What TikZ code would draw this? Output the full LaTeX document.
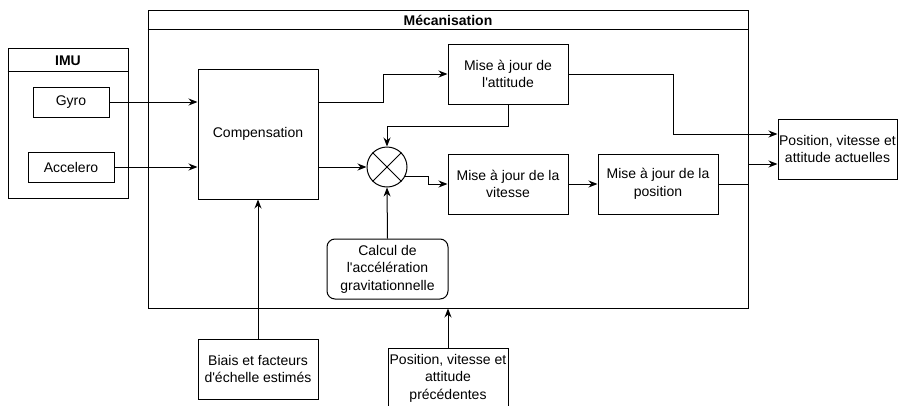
\documentclass[tikz,border=0pt]{standalone}
\usepackage{fontspec}
\setmainfont{Liberation Sans}
\usetikzlibrary{arrows.meta,calc}
\begin{document}
\begin{tikzpicture}[x=1pt,y=-1pt,
  line width=1pt,
  every node/.style={font=\fontsize{14}{17.5}\selectfont},
  box/.style={draw,align=center,inner sep=0pt,minimum width=120pt,minimum height=60pt},
  container/.style={draw,inner sep=0pt},
  ttl/.style={font=\fontsize{14}{17.5}\selectfont\bfseries},
  arr/.style={-{Stealth[length=9pt,width=7pt]}}]
\useasboundingbox (0,0) rectangle (898,405);
\begin{scope}
\clip (0,0) rectangle (898,405);
% containers
\node[container,minimum width=120pt,minimum height=150pt] (imu) at (68,123) {};
\draw ([yshift=-24pt]imu.north west) -- ([yshift=-24pt]imu.north east);
\node[ttl] (imut) at (68,60.5) {IMU};
\node[container,minimum width=600pt,minimum height=298pt] (mec) at (448,159) {};
\draw ([yshift=-20pt]mec.north west) -- ([yshift=-20pt]mec.north east);
\node[ttl] (mect) at (448,20) {Mécanisation};
% nodes
\node[box,minimum width=76pt,minimum height=30pt] (gyro) at (71,102) {Gyro};
\node[box,minimum width=86pt,minimum height=30pt] (acc) at (71,167) {Accelero};
\node[box,minimum height=130pt] (comp) at (258,134) {Compensation};
\node[box] (att) at (508,74) {Mise à jour de\\l{\textquotesingle}attitude};
\node[box] (vit) at (508,184) {Mise à jour de la\\vitesse};
\node[box] (pos) at (658,184) {Mise à jour de la\\position};
\node[draw,circle,minimum size=40pt,inner sep=0pt] (circ) at (387,167) {};
\draw (circ.45) -- (circ.225) (circ.135) -- (circ.315);
\node[box,rounded corners=8pt,minimum width=121pt] (calc) at (387.5,269) {Calcul de\\l{\textquotesingle}accélération\\gravitationnelle};
\node[box,minimum width=119pt] (out) at (837.5,149) {Position, vitesse et\\attitude actuelles};
\node[box] (biais) at (258,369) {Biais et facteurs\\d{\textquotesingle}échelle estimés};
\node[box] (prev) at (448,378) {Position, vitesse et\\attitude\\précédentes};
% connectors
\draw[arr] (gyro.east) -- (gyro.east -| comp.west);
\draw[arr] (acc.east) -- (acc.east -| comp.west);
\draw[arr] (comp.east |- gyro.east) -- ++(65,0) |- (att.west);
\draw[arr] (comp.east |- circ.west) -- (circ.west);
\draw[arr] (att.south) -- ++(0,22) -| (circ.north);
\coordinate (cv) at ($(circ.-27)+(23,0)$);
\draw[arr] (circ.-27) -- (cv) |- (vit.west);
\draw[arr] (vit.east) -- (pos.west);
\draw[arr] (pos.east) -- (pos.east -| mec.east) |- ($(out.west)+(0,15)$);
\draw[arr] (att.east) -- ++(105,0) |- ($(out.west)+(0,-15)$);
\draw[arr] (calc.north) -- (circ.south);
\draw[arr] (biais.north) -- (comp.south);
\draw[arr] (prev.north) -- (prev.north |- mec.south);
\end{scope}
\end{tikzpicture}
\end{document}
